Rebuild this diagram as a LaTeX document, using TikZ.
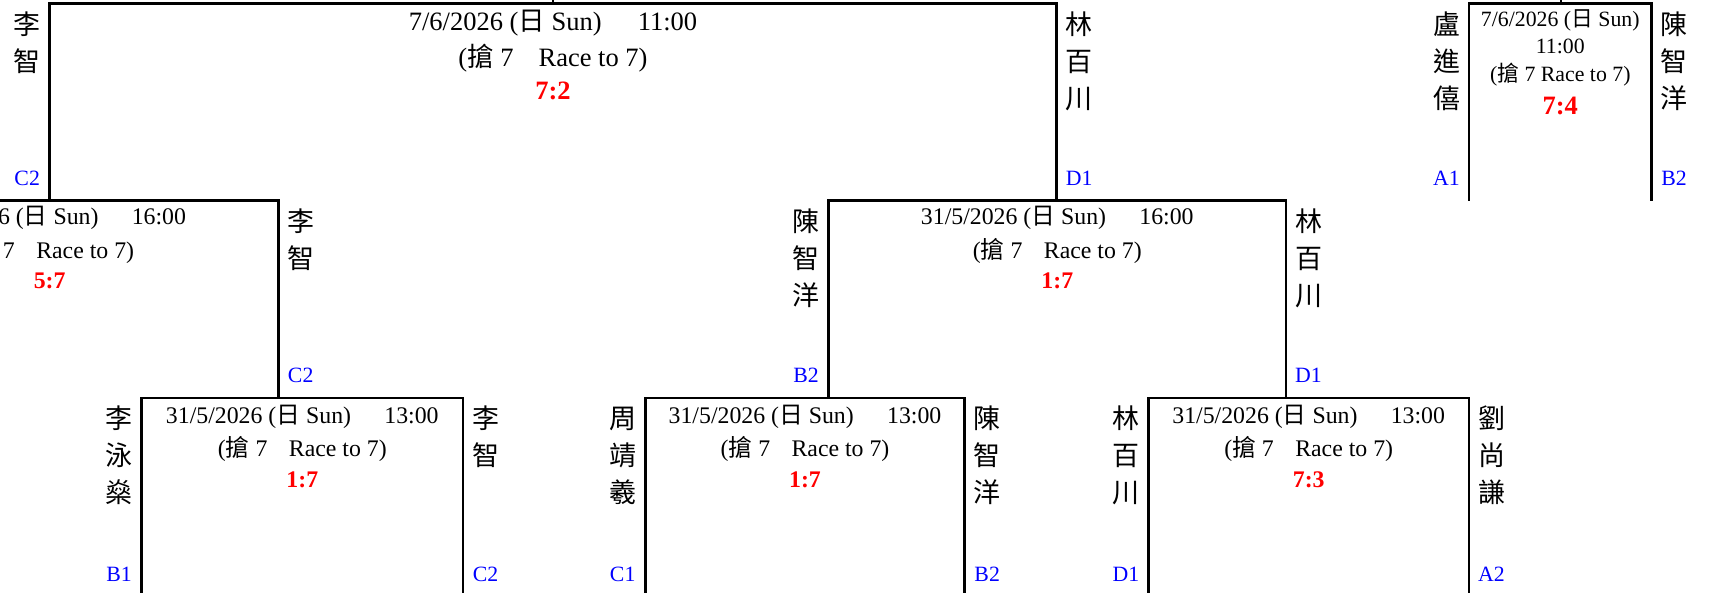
\documentclass[tikz,border=0pt]{standalone}
\usepackage{fontspec}
\setmainfont{Liberation Serif}
\newfontfamily\cjk{Noto Sans CJK TC}
\newcommand\cj[1]{{\cjk #1}}
\newcommand\vtwo[2]{\vtop{\baselineskip=18.5pt\hbox{\cjk #1}\hbox{\cjk #2}}}
\newcommand\vthree[3]{\vtop{\baselineskip=18.5pt\hbox{\cjk #1}\hbox{\cjk #2}\hbox{\cjk #3}}}
\definecolor{scorered}{RGB}{255,0,0}
\definecolor{seedblue}{RGB}{0,0,255}
\tikzset{
  bline/.style={line width=1.4pt, line join=miter},
  ttop/.style={anchor=base, inner sep=0pt, font=\fontsize{13.25}{16}\selectfont},
  tmid/.style={anchor=base, inner sep=0pt, font=\fontsize{11.9}{14}\selectfont},
  tsml/.style={anchor=base, inner sep=0pt, font=\fontsize{10.9}{13}\selectfont},
  stop/.style={anchor=base, inner sep=0pt, text=scorered, font=\fontsize{13.25}{16}\selectfont\bfseries},
  smid/.style={anchor=base, inner sep=0pt, text=scorered, font=\fontsize{11.9}{14}\selectfont\bfseries},
  namecol/.style={anchor=base, inner sep=0pt, font=\fontsize{13.5}{18.5}\selectfont},
  seed/.style={anchor=base, inner sep=0pt, text=seedblue, font=\fontsize{10.9}{13}\selectfont},
}
\begin{document}
\begin{tikzpicture}[x=0.5pt, y=-0.5pt]
\useasboundingbox (0,0) rectangle (1709,593);
\clip (0,0) rectangle (1709,593);
% ---------- bracket coordinates ----------
% top bracket
\coordinate (tL) at (49.7,3.3);  \coordinate (tR) at (1056.8,3.3);
\coordinate (tLb) at (49.7,200.7); \coordinate (tRb) at (1056.8,200.7);
\coordinate (tS) at (553,3.3); \coordinate (tSu) at (553,-6);
% small bracket
\coordinate (sL) at (1469,3.3); \coordinate (sR) at (1651.5,3.3);
\coordinate (sLb) at (1469,200.7); \coordinate (sRb) at (1651.5,200.7);
\coordinate (sS) at (1561,3.3); \coordinate (sSu) at (1561,-6);
% middle-left bracket
\coordinate (mlL) at (-178.8,200.7); \coordinate (mlR) at (278.2,200.7);
\coordinate (mlLb) at (-178.8,398); \coordinate (mlRb) at (278.2,398);
% middle-centre bracket
\coordinate (mcL) at (828.6,200.7); \coordinate (mcR) at (1286,200.7);
\coordinate (mcLb) at (828.6,398); \coordinate (mcRb) at (1286,398);
% bottom brackets
\coordinate (b1L) at (141.6,398); \coordinate (b1R) at (463,398);
\coordinate (b1Lb) at (141.6,600); \coordinate (b1Rb) at (463,600);
\coordinate (b2L) at (645.2,398); \coordinate (b2R) at (964.7,398);
\coordinate (b2Lb) at (645.2,600); \coordinate (b2Rb) at (964.7,600);
\coordinate (b3L) at (1148.5,398); \coordinate (b3R) at (1469,398);
\coordinate (b3Lb) at (1148.5,600); \coordinate (b3Rb) at (1469,600);
% ---------- lines ----------
\draw[bline] (tLb) -- (tL) -- (tR) -- (tRb);
\draw[bline] (tS) -- (tSu);
\draw[bline] (sLb) -- (sL) -- (sR) -- (sRb);
\draw[bline] (sS) -- (sSu);
\draw[bline] (mlLb) -- (mlL) -- (mlR) -- (mlRb);
\draw[bline] (mcLb) -- (mcL) -- (mcR) -- (mcRb);
\draw[bline] (b1Lb) -- (b1L) -- (b1R) -- (b1Rb);
\draw[bline] (b2Lb) -- (b2L) -- (b2R) -- (b2Rb);
\draw[bline] (b3Lb) -- (b3L) -- (b3R) -- (b3Rb);
% ---------- top bracket texts ----------
\node[ttop] (t1) at (553,31) {7/6/2026 (\cj{日} Sun)\hspace{1.36em}11:00};
\node[ttop] (t2) at (553,66.7) {(\cj{搶} 7\hspace{0.94em}Race to 7)};
\node[stop] (t3) at (553,99.3) {7:2};
\node[namecol] (tn1) at (27.2,34.3) {\vtwo{李}{智}};
\node[seed] (ts1) at (27.2,186) {C2};
\node[namecol] (tn2) at (1079.3,34.3) {\vthree{林}{百}{川}};
\node[seed] (ts2) at (1079.3,186) {D1};
% ---------- small bracket texts ----------
\node[tsml] (s1) at (1560.3,26.7) {7/6/2026 (\cj{日} Sun)};
\node[tsml] (s2) at (1560.3,54) {11:00};
\node[tsml] (s3) at (1560.3,81.7) {(\cj{搶} 7 Race to 7)};
\node[stop] (s4) at (1560.3,115) {7:4};
\node[namecol] (sn1) at (1446.5,34.3) {\vthree{盧}{進}{僖}};
\node[seed] (ss1) at (1446.5,186) {A1};
\node[namecol] (sn2) at (1674,34.3) {\vthree{陳}{智}{洋}};
\node[seed] (ss2) at (1674,186) {B2};
% ---------- middle-left bracket texts ----------
\node[tmid] (ml1) at (49.7,225) {31/5/2026 (\cj{日} Sun)\hspace{1.4em}16:00};
\node[tmid] (ml2) at (49.7,258.3) {(\cj{搶} 7\hspace{0.9em}Race to 7)};
\node[smid] (ml3) at (49.7,288.3) {5:7};
\node[namecol] (mln2) at (300.7,231.7) {\vtwo{李}{智}};
\node[seed] (mls2) at (300.7,383) {C2};
% ---------- middle-centre bracket texts ----------
\node[tmid] (mc1) at (1057.3,225) {31/5/2026 (\cj{日} Sun)\hspace{1.4em}16:00};
\node[tmid] (mc2) at (1057.3,258.3) {(\cj{搶} 7\hspace{0.9em}Race to 7)};
\node[smid] (mc3) at (1057.3,288.3) {1:7};
\node[namecol] (mcn1) at (806.1,231.7) {\vthree{陳}{智}{洋}};
\node[seed] (mcs1) at (806.1,383) {B2};
\node[namecol] (mcn2) at (1308.5,231.7) {\vthree{林}{百}{川}};
\node[seed] (mcs2) at (1308.5,383) {D1};
% ---------- bottom bracket 1 ----------
\node[tmid] (b11) at (302.3,423.8) {31/5/2026 (\cj{日} Sun)\hspace{1.4em}13:00};
\node[tmid] (b12) at (302.3,456) {(\cj{搶} 7\hspace{0.9em}Race to 7)};
\node[smid] (b13) at (302.3,487.5) {1:7};
\node[namecol] (b1n1) at (119.1,429) {\vthree{李}{泳}{燊}};
\node[seed] (b1s1) at (119.1,581) {B1};
\node[namecol] (b1n2) at (485.5,429) {\vtwo{李}{智}};
\node[seed] (b1s2) at (485.5,581) {C2};
% ---------- bottom bracket 2 ----------
\node[tmid] (b21) at (805,423.8) {31/5/2026 (\cj{日} Sun)\hspace{1.4em}13:00};
\node[tmid] (b22) at (805,456) {(\cj{搶} 7\hspace{0.9em}Race to 7)};
\node[smid] (b23) at (805,487.5) {1:7};
\node[namecol] (b2n1) at (622.7,429) {\vthree{周}{靖}{羲}};
\node[seed] (b2s1) at (622.7,581) {C1};
\node[namecol] (b2n2) at (987.2,429) {\vthree{陳}{智}{洋}};
\node[seed] (b2s2) at (987.2,581) {B2};
% ---------- bottom bracket 3 ----------
\node[tmid] (b31) at (1308.7,423.8) {31/5/2026 (\cj{日} Sun)\hspace{1.4em}13:00};
\node[tmid] (b32) at (1308.7,456) {(\cj{搶} 7\hspace{0.9em}Race to 7)};
\node[smid] (b33) at (1308.7,487.5) {7:3};
\node[namecol] (b3n1) at (1126,429) {\vthree{林}{百}{川}};
\node[seed] (b3s1) at (1126,581) {D1};
\node[namecol] (b3n2) at (1491.5,429) {\vthree{劉}{尚}{謙}};
\node[seed] (b3s2) at (1491.5,581) {A2};
\end{tikzpicture}
\end{document}
